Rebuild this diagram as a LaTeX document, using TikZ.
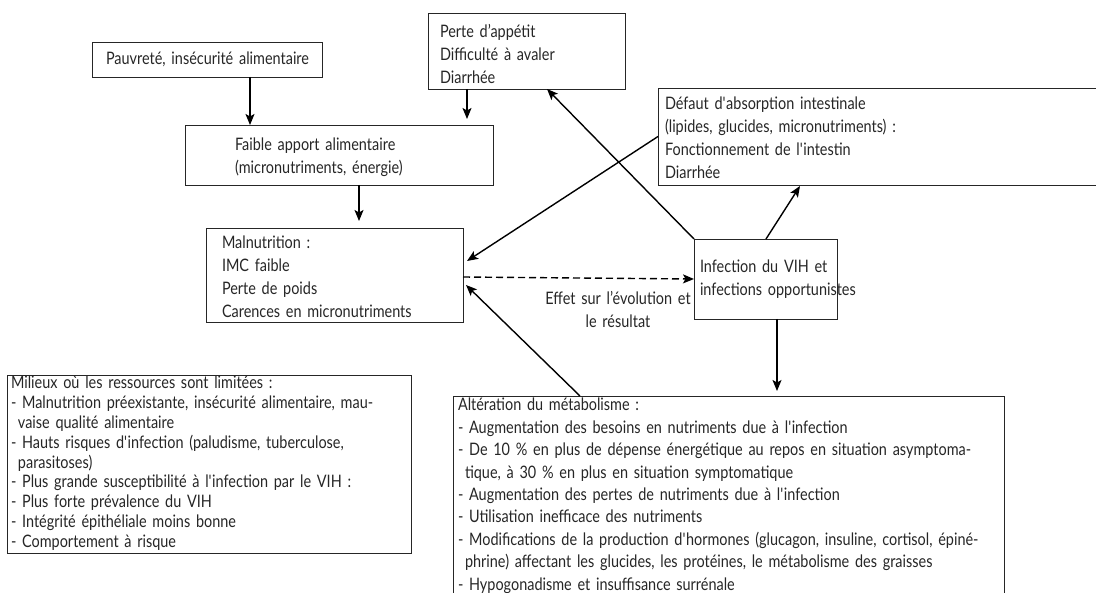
\documentclass[tikz,border=0pt]{standalone}
\usepackage{fontspec}
\setmainfont{Lato}[FakeStretch=0.84]
\usetikzlibrary{arrows.meta,calc}
\newcommand\sq{\textquotesingle}
\begin{document}
\begin{tikzpicture}[x=1pt,y=-1pt,
  box/.style={draw=black!85, line width=0.9pt, anchor=north west, inner sep=0pt, outer sep=0pt},
  frame/.style={inner sep=0pt, outer sep=0pt, anchor=north west},
  edge/.style={draw=black!85, line width=0.9pt},
  txt/.style={anchor=base west, inner sep=0pt, outer sep=0pt, align=left, text width=640pt, text=black!85, font=\fontsize{17.2}{23}\selectfont},
  txtsm/.style={txt, font=\fontsize{17.2}{19.8}\selectfont},
  txtalt/.style={txt, font=\fontsize{17.2}{22.4}\selectfont},
  arr/.style={line width=1.4pt, -{Stealth[length=11pt,width=9pt,inset=2.5pt]}},
  dasharr/.style={arr, dash pattern=on 7pt off 4pt},
]
\path[use as bounding box] (0,0) rectangle (1096,593);

% boxes
\node[box, minimum width=230pt, minimum height=35pt] (pauv) at (92,42) {};
\node[box, minimum width=197pt, minimum height=76pt] (perte) at (428,13) {};
\node[box, minimum width=308pt, minimum height=60pt] (faible) at (185,125) {};
\node[box, minimum width=257pt, minimum height=94pt] (mal) at (206,228) {};
\node[frame, minimum width=440pt, minimum height=97pt] (def) at (658,88) {};
\draw[edge] (def.north east) -- (def.north west) -- (def.south west) -- (def.south east);
\node[box, minimum width=143pt, minimum height=80pt] (inf) at (694,239) {};
\node[box, minimum width=404pt, minimum height=178pt] (mil) at (7,375) {};
\node[frame, minimum width=551pt, minimum height=210pt] (alt) at (453,396) {};
\draw[edge] (alt.south west) -- (alt.north west) -- (alt.north east) -- (alt.south east);

% texts
\node[txt] (pauv-t) at (106,65) {Pauvreté, insécurité alimentaire};
\node[txt] (perte-t) at (440,38) {Perte d’appétit\\Difficulté à avaler\\Diarrhée};
\node[txt] (faible-t) at (235,151) {Faible apport alimentaire\\(micronutriments, énergie)};
\node[txt] (mal-t) at (222,249) {Malnutrition :\\IMC faible\\Perte de poids\\Carences en micronutriments};
\node[txt] (def-t) at (665,110) {Défaut d\sq absorption intestinale\\(lipides, glucides, micronutriments) :\\Fonctionnement de l\sq intestin\\Diarrhée};
\node[txt] (inf-t) at (700,273) {Infection du VIH et\\infections opportunistes};
\node[txt, anchor=base, align=center, text width=220pt] (effet) at (618,305) {Effet sur l’évolution et\\le résultat};
\node[txtsm] (mil-t) at (11,389) {Milieux où les ressources sont limitées :\\
- Malnutrition préexistante, insécurité alimentaire, mau-\\
\hspace*{7pt}vaise qualité alimentaire\\
- Hauts risques d\sq infection (paludisme, tuberculose,\\
\hspace*{7pt}parasitoses)\\
- Plus grande susceptibilité à l\sq infection par le VIH :\\
- Plus forte prévalence du VIH\\
- Intégrité épithéliale moins bonne\\
- Comportement à risque};
\node[txtalt] (alt-t) at (458,411) {Altération du métabolisme :\\
- Augmentation des besoins en nutriments due à l\sq infection\\
- De 10~\% en plus de dépense énergétique au repos en situation asymptoma-\\
\hspace*{7pt}tique, à 30~\% en plus en situation symptomatique\\
- Augmentation des pertes de nutriments due à l\sq infection\\
- Utilisation inefficace des nutriments\\
- Modifications de la production d\sq hormones (glucagon, insuline, cortisol, épiné-\\
\hspace*{7pt}phrine) affectant les glucides, les protéines, le métabolisme des graisses\\
- Hypogonadisme et insuffisance surrénale};

% connectors
\coordinate (a1s) at ($(pauv.south)+(43,0)$);
\coordinate (a1e) at (a1s |- faible.north);
\draw[arr] (a1s) -- (a1e);

\coordinate (a2s) at ($(perte.south)+(-59.5,0)$);
\coordinate (a2e) at ($(a2s |- faible.north)+(0,-6)$);
\draw[arr] (a2s) -- (a2e);

\coordinate (a3s) at ($(faible.south)+(20,0)$);
\coordinate (a3e) at ($(a3s |- mal.north)+(0,-7)$);
\draw[arr] (a3s) -- (a3e);

\coordinate (a4e) at ($(mal.east)+(4,-14)$);
\draw[arr] (def.west) -- (a4e);

\coordinate (a5e) at ($(perte.south)+(20.5,0)$);
\draw[arr] (inf.north west) -- (a5e);

\coordinate (a6s) at ($(inf.north)+(0.5,0)$);
\coordinate (a6e) at ($(def.south west)+(142,1)$);
\draw[arr] (a6s) -- (a6e);

\coordinate (a7s) at ($(inf.south)+(11.5,0)$);
\coordinate (a7e) at ($(a7s |- alt.north)+(0,-5)$);
\draw[arr] (a7s) -- (a7e);

\coordinate (a8s) at ($(alt.north west)+(127,0)$);
\coordinate (a8e) at ($(mal.east)+(3,10)$);
\draw[arr] (a8s) -- (a8e);

\coordinate (a9s) at ($(mal.east)+(0,2)$);
\draw[dasharr] (a9s) -- (inf.west);
\end{tikzpicture}
\end{document}
